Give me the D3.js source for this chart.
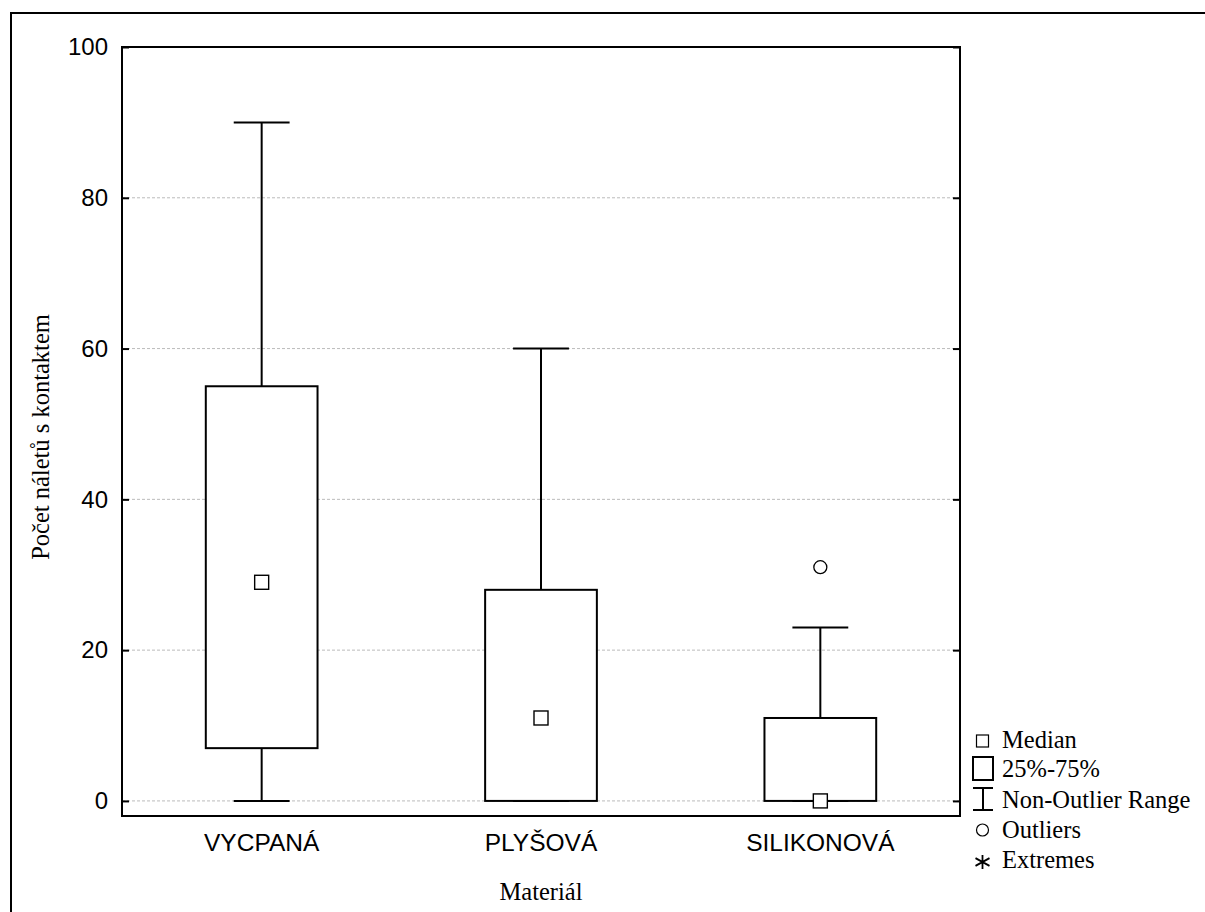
<!DOCTYPE html>
<html>
<head>
  <meta charset='utf-8'>
  <title>Počet náletů s kontaktem</title>
  <script src="https://cdnjs.cloudflare.com/ajax/libs/d3/7.8.5/d3.min.js"></script>
  <style>
    html, body { margin: 0; padding: 0; background: #fff; }
    .tick-label { font-family: Arial, 'Liberation Sans', sans-serif; font-size: 24px; }
    .cat-label { font-family: Arial, 'Liberation Sans', sans-serif; font-size: 24.5px; }
    .serif { font-family: 'Times New Roman', 'Liberation Serif', serif; font-size: 24.5px; }
  </style>
</head>
<body>
  <svg id="chart"></svg>
  <script>
    // data
    const categories = ["VYCPANÁ", "PLYŠOVÁ", "SILIKONOVÁ"];
    const medians = [29, 11, 0];
    const q1 = [7, 0, 0];
    const q3 = [55, 28, 11];
    const whiskLow = [0, 0, 0];
    const whiskHigh = [90, 60, 23];
    const outliers = [[], [], [31]];
    const yTicks = [0, 20, 40, 60, 80, 100];
    const legendItems = ["Median", "25%-75%", "Non-Outlier Range", "Outliers", "Extremes"];

    const width = 1205, height = 912;
    const plot = { left: 122, top: 47, right: 960, bottom: 816 };

    const svg = d3.select('#chart').attr('width', width).attr('height', height);

    // outer frame (runs off the right and bottom edge)
    svg.append('rect')
      .attr('x', 11).attr('y', 13).attr('width', 1400).attr('height', 1000)
      .attr('fill', 'none').attr('stroke', '#000').attr('stroke-width', 2);

    const x = d3.scaleBand().domain(categories).range([plot.left, plot.right]).padding(0);
    const y = d3.scaleLinear().domain([-2, 100]).range([plot.bottom, plot.top]);

    // grid
    svg.append('g').selectAll('line').data(yTicks).join('line')
      .attr('x1', plot.left).attr('x2', plot.right)
      .attr('y1', d => y(d)).attr('y2', d => y(d))
      .attr('stroke', '#bbb').attr('stroke-width', 1).attr('stroke-dasharray', '3,2');

    // axes, ticks pointing inward
    const left = svg.append('g').attr('transform', `translate(${plot.left},0)`)
      .call(d3.axisLeft(y).tickValues(yTicks).tickSizeInner(-7).tickSizeOuter(0).tickPadding(14));
    const right = svg.append('g').attr('transform', `translate(${plot.right},0)`)
      .call(d3.axisRight(y).tickValues(yTicks).tickSizeInner(-7).tickSizeOuter(0).tickFormat(''));
    [left, right].forEach(g => {
      g.select('.domain').remove();
      g.selectAll('line').attr('stroke', '#000').attr('stroke-width', 2);
    });
    left.selectAll('text').attr('class', 'tick-label').attr('fill', '#000');

    const bottom = svg.append('g').attr('transform', `translate(0,${plot.bottom})`)
      .call(d3.axisBottom(x).tickSize(0).tickPadding(18));
    bottom.select('.domain').remove();
    bottom.selectAll('text').attr('class', 'cat-label').attr('fill', '#000');

    // plot border
    svg.append('rect')
      .attr('x', plot.left).attr('y', plot.top)
      .attr('width', plot.right - plot.left).attr('height', plot.bottom - plot.top)
      .attr('fill', 'none').attr('stroke', '#000').attr('stroke-width', 2);

    const bw = x.bandwidth();
    const boxW = bw * 0.4, capW = bw * 0.2;
    const boxes = svg.append('g').selectAll('g').data(categories).join('g')
      .attr('transform', d => `translate(${x(d) + bw / 2},0)`);

    // whiskers
    boxes.append('line')
      .attr('x1', 0).attr('x2', 0)
      .attr('y1', (d, i) => y(whiskHigh[i])).attr('y2', (d, i) => y(whiskLow[i]))
      .attr('stroke', '#000').attr('stroke-width', 2);
    boxes.each(function (d, i) {
      const g = d3.select(this);
      [whiskLow[i], whiskHigh[i]].forEach(v => {
        g.append('line').attr('x1', -capW / 2).attr('x2', capW / 2)
          .attr('y1', y(v)).attr('y2', y(v))
          .attr('stroke', '#000').attr('stroke-width', 2);
      });
    });
    // box
    boxes.append('rect')
      .attr('x', -boxW / 2).attr('width', boxW)
      .attr('y', (d, i) => y(q3[i])).attr('height', (d, i) => y(q1[i]) - y(q3[i]))
      .attr('fill', '#fff').attr('stroke', '#000').attr('stroke-width', 2);
    // median
    boxes.append('rect')
      .attr('x', -7).attr('width', 14)
      .attr('y', (d, i) => y(medians[i]) - 7).attr('height', 14)
      .attr('fill', '#fff').attr('stroke', '#000').attr('stroke-width', 1.4);
    // outliers
    boxes.each(function (d, i) {
      d3.select(this).selectAll('circle').data(outliers[i]).join('circle')
        .attr('cx', 0).attr('cy', v => y(v)).attr('r', 6.5)
        .attr('fill', '#fff').attr('stroke', '#000').attr('stroke-width', 1.3);
    });

    // axis titles
    svg.append('text').attr('class', 'serif')
      .attr('x', plot.left + (plot.right - plot.left) / 2).attr('y', 900)
      .attr('text-anchor', 'middle').text('Materiál');
    svg.append('text').attr('class', 'serif')
      .attr('transform', `translate(49,437) rotate(-90)`)
      .attr('text-anchor', 'middle').text('Počet náletů s kontaktem');

    // legend
    const lg = svg.append('g').attr('transform', 'translate(972,0)');
    const symY = [741, 769, 799, 830, 862];
    const textY = [748, 777, 808, 838, 868];
    legendItems.forEach((t, i) => {
      lg.append('text').attr('class', 'serif')
        .attr('x', 30).attr('y', textY[i]).text(t);
    });
    lg.append('rect').attr('x', 4.5).attr('y', symY[0] - 6).attr('width', 12).attr('height', 12)
      .attr('fill', '#fff').attr('stroke', '#000').attr('stroke-width', 1.2);
    lg.append('rect').attr('x', 1).attr('y', symY[1] - 12).attr('width', 20).attr('height', 23)
      .attr('fill', '#fff').attr('stroke', '#000').attr('stroke-width', 2);
    const wy = symY[2];
    lg.append('path').attr('d', `M1,${wy - 11}H21M11,${wy - 11}V${wy + 11}M1,${wy + 11}H21`)
      .attr('fill', 'none').attr('stroke', '#000').attr('stroke-width', 2);
    lg.append('circle').attr('cx', 10.5).attr('cy', symY[3]).attr('r', 6)
      .attr('fill', '#fff').attr('stroke', '#000').attr('stroke-width', 1.2);
    const ay = symY[4], ar = 7;
    lg.append('path')
      .attr('d', `M10.5,${ay - ar}V${ay + ar}M${10.5 - ar},${ay - ar * 0.55}L${10.5 + ar},${ay + ar * 0.55}M${10.5 - ar},${ay + ar * 0.55}L${10.5 + ar},${ay - ar * 0.55}`)
      .attr('fill', 'none').attr('stroke', '#000').attr('stroke-width', 1.8);
  </script>
</body>
</html>
